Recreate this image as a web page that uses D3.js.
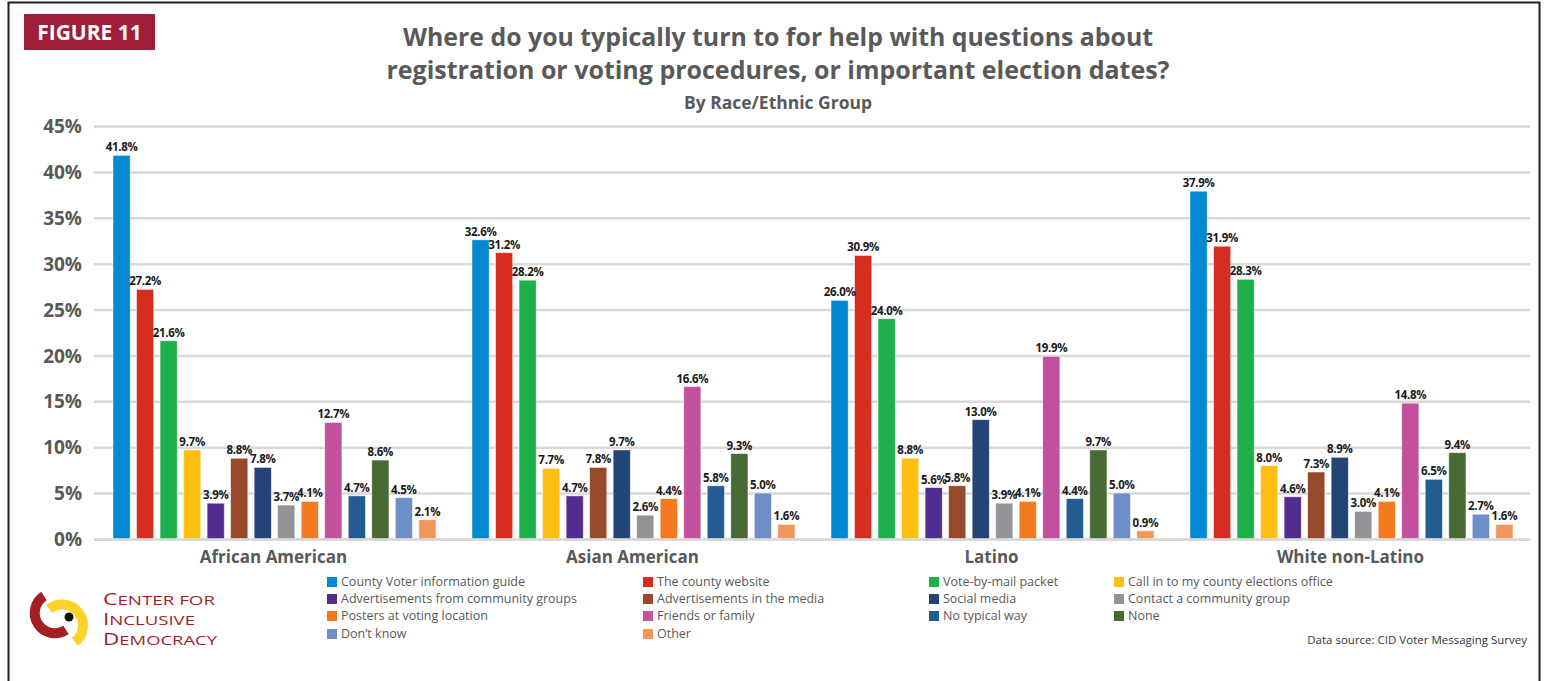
<!DOCTYPE html>
<html>
<head>
<meta charset="utf-8">
<script src="https://cdn.jsdelivr.net/npm/d3@7"></script>
<style>
  html, body { margin: 0; padding: 0; background: #fff; }
  svg { display: block; }
  text { font-family: "Open Sans", "Noto Sans", sans-serif; }
</style>
</head>
<body>
<svg id="chart" width="1546" height="681"></svg>
<script>
const groups = ["African American", "Asian American", "Latino", "White non-Latino"];
const sources = [
  "County Voter information guide", "The county website", "Vote-by-mail packet",
  "Call in to my county elections office", "Advertisements from community groups",
  "Advertisements in the media", "Social media", "Contact a community group",
  "Posters at voting location", "Friends or family", "No typical way", "None",
  "Don\u2019t know", "Other"
];
const colors = ["#0088d1", "#d62d21", "#1db04b", "#fcbf12", "#532d8d", "#964a2b",
  "#244376", "#929497", "#f47a20", "#c2519d", "#235c91", "#466a31", "#6d8fc8", "#f1975c"];
const africanAmerican = [41.8, 27.2, 21.6, 9.7, 3.9, 8.8, 7.8, 3.7, 4.1, 12.7, 4.7, 8.6, 4.5, 2.1];
const asianAmerican   = [32.6, 31.2, 28.2, 7.7, 4.7, 7.8, 9.7, 2.6, 4.4, 16.6, 5.8, 9.3, 5.0, 1.6];
const latino          = [26.0, 30.9, 24.0, 8.8, 5.6, 5.8, 13.0, 3.9, 4.1, 19.9, 4.4, 9.7, 5.0, 0.9];
const whiteNonLatino  = [37.9, 31.9, 28.3, 8.0, 4.6, 7.3, 8.9, 3.0, 4.1, 14.8, 6.5, 9.4, 2.7, 1.6];
const seriesByGroup = [africanAmerican, asianAmerican, latino, whiteNonLatino];
const yTicks = [0, 5, 10, 15, 20, 25, 30, 35, 40, 45];

(function () {
const svg = d3.select("#chart");

// frame
svg.append("path").attr("d", "M8.5,681 L8.5,2.5 L1539.5,2.5 L1539.5,681")
  .attr("fill", "none").attr("stroke", "#231f20").attr("stroke-width", 2);

// figure label
svg.append("rect").attr("x", 24).attr("y", 14).attr("width", 131).attr("height", 36).attr("fill", "#9e1f37");
svg.append("text").attr("x", 89.5).attr("y", 39.5).attr("text-anchor", "middle")
  .attr("fill", "#fff").attr("font-weight", 700).attr("font-size", 21).text("FIGURE 11");

// titles
const titleColor = "#595959";
svg.append("text").attr("x", 778).attr("y", 46).attr("text-anchor", "middle")
  .attr("fill", titleColor).attr("font-weight", 700).attr("font-size", 24.5)
  .attr("textLength", 750).attr("lengthAdjust", "spacingAndGlyphs")
  .text("Where do you typically turn to for help with questions about");
svg.append("text").attr("x", 778).attr("y", 79).attr("text-anchor", "middle")
  .attr("fill", titleColor).attr("font-weight", 700).attr("font-size", 24.5)
  .attr("textLength", 783).attr("lengthAdjust", "spacingAndGlyphs")
  .text("registration or voting procedures, or important election dates?");
svg.append("text").attr("x", 778).attr("y", 109).attr("text-anchor", "middle")
  .attr("fill", titleColor).attr("font-weight", 700).attr("font-size", 17)
  .attr("textLength", 188).attr("lengthAdjust", "spacingAndGlyphs")
  .text("By Race/Ethnic Group");

// scales
const pLeft = 94, pRight = 1530, pTop = 126, pBottom = 539;
const y = d3.scaleLinear().domain([0, 45]).range([pBottom, pTop]);
const x0 = d3.scaleBand().domain(groups).range([pLeft, pRight]).padding(0);
const x1 = d3.scaleBand().domain(sources).range([19, x0.bandwidth() - 17]).paddingInner(0.27).paddingOuter(0);

// grid
const yAxis = d3.axisLeft(y).tickValues(yTicks).tickSize(-(pRight - pLeft)).tickFormat(d => d + "%");
const gy = svg.append("g").attr("transform", `translate(${pLeft},0)`).call(yAxis);
gy.select(".domain").remove();
gy.selectAll(".tick line").attr("stroke", "#d9d9d9").attr("stroke-width", 2.5);
gy.selectAll(".tick text").attr("x", -12).attr("dy", "0.35em").attr("fill", "#595959")
  .attr("font-weight", 700).attr("font-size", 19).attr("font-family", "'Open Sans', sans-serif");

// bars
const gGroups = svg.append("g").selectAll("g").data(groups).join("g")
  .attr("transform", d => `translate(${x0(d)},0)`);
gGroups.each(function(g, gi) {
  const vals = seriesByGroup[gi].map((v, i) => ({ key: sources[i], v, c: colors[i] }));
  const sel = d3.select(this);
  sel.selectAll("rect").data(vals).join("rect")
    .attr("x", d => x1(d.key)).attr("width", x1.bandwidth())
    .attr("y", d => y(d.v)).attr("height", d => y(0) - y(d.v))
    .attr("fill", d => d.c).attr("stroke", "#ffffff").attr("stroke-opacity", 0.6).attr("stroke-width", 0.8);
  sel.selectAll("text.val").data(vals).join("text").attr("class", "val")
    .attr("x", d => x1(d.key) + x1.bandwidth() / 2).attr("y", d => y(d.v) - 4)
    .attr("text-anchor", "middle").attr("font-weight", 700).attr("font-size", 11.5)
    .attr("fill", "#1a1a1a").attr("letter-spacing", -0.3).text(d => d.v.toFixed(1) + "%");
});

// x-axis baseline + labels
const xAxis = d3.axisBottom(x0).tickSize(0).tickPadding(9);
const gx = svg.append("g").attr("transform", `translate(0,${pBottom})`).call(xAxis);
gx.select(".domain").attr("stroke", "#d9d9d9").attr("stroke-width", 2.5);
gx.selectAll(".tick text").attr("fill", "#595959").attr("font-weight", 700).attr("font-size", 17)
  .attr("font-family", "'Open Sans', sans-serif").attr("dy", "0.9em");

// legend
const legCols = [327, 643, 929, 1114];
const legRows = [582, 599, 616, 634];
const leg = svg.append("g").selectAll("g").data(sources).join("g")
  .attr("transform", (d, i) => `translate(${legCols[i % 4]},${legRows[Math.floor(i / 4)]})`);
leg.append("rect").attr("x", 0).attr("y", -5).attr("width", 10).attr("height", 10).attr("fill", (d, i) => colors[i]);
leg.append("text").attr("x", 14).attr("y", 0).attr("dy", "0.35em").attr("font-size", 12.5)
  .attr("fill", "#595959").text(d => d);

// data source
svg.append("text").attr("x", 1527).attr("y", 644).attr("text-anchor", "end")
  .attr("font-size", 11.5).attr("fill", "#333").text("Data source: CID Voter Messaging Survey");

// logo
const logo = svg.append("g");
logo.append("path").attr("d", "M44,596 A19,19 0 1 0 66,630")
  .attr("fill", "none").attr("stroke", "#a21f23").attr("stroke-width", 10);
logo.append("path").attr("d", "M49,609 A19,19 0 1 1 75,642")
  .attr("fill", "none").attr("stroke", "#fdd22a").attr("stroke-width", 10);
logo.append("circle").attr("cx", 69).attr("cy", 617).attr("r", 4.5).attr("fill", "#111");
const logoText = ["CENTER FOR", "INCLUSIVE", "DEMOCRACY"];
const logoLens = [112, 92, 114];
logoText.forEach((t, i) => {
  const tx = logo.append("text").attr("x", 103).attr("y", 605 + i * 20)
    .attr("fill", "#9e1f2a").attr("font-size", 13.5).attr("font-family", "'Liberation Sans', sans-serif")
    .attr("font-weight", 400).attr("textLength", logoLens[i]).attr("lengthAdjust", "spacingAndGlyphs");
  tx.append("tspan").attr("font-size", 16.5).text(t[0]);
  tx.append("tspan").text(t.slice(1));
});
})();
</script>
</body>
</html>
